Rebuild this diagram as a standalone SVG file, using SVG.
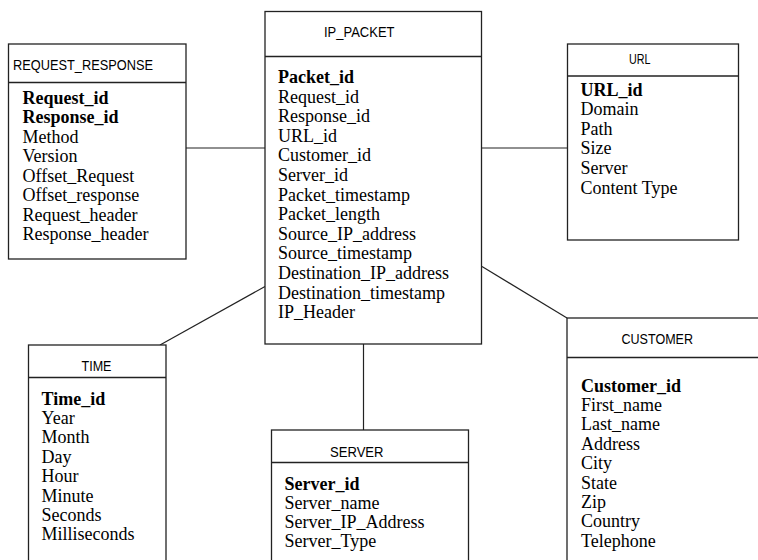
<svg xmlns="http://www.w3.org/2000/svg" width="758" height="560" viewBox="0 0 758 560">
<style>
.box{fill:#fff;stroke:#222;stroke-width:1.3}
.div{stroke:#222;stroke-width:1.3}
.conn line{stroke:#222;stroke-width:1.2}
.ttl{font-family:"Liberation Sans",Arial,sans-serif;font-size:14px;fill:#000}
.att{font-family:"Liberation Serif","Times New Roman",serif;font-size:18px;fill:#000}
.key{font-weight:bold}
</style>
<rect width="758" height="560" fill="#fff"/>
<g id="connectors" class="conn">
<line x1="186" y1="148" x2="265" y2="148"/>
<line x1="482" y1="148" x2="567" y2="148"/>
<line x1="482" y1="266.5" x2="567" y2="318"/>
<line x1="160" y1="345" x2="265" y2="286.5"/>
<line x1="363.5" y1="344" x2="363.5" y2="430"/>
</g>
<g id="request_response">
<rect class="box" x="8.5" y="44" width="177.5" height="215"/>
<line class="div" x1="8.5" y1="82.5" x2="186" y2="82.5"/>
<text class="ttl" x="13" y="70" textLength="140" lengthAdjust="spacingAndGlyphs">REQUEST_RESPONSE</text>
<text class="att">
<tspan x="22.5" y="103.5" class="key">Request_id</tspan>
<tspan x="22.5" y="123" class="key">Response_id</tspan>
<tspan x="22.5" y="142.5">Method</tspan>
<tspan x="22.5" y="162">Version</tspan>
<tspan x="22.5" y="181.5">Offset_Request</tspan>
<tspan x="22.5" y="201">Offset_response</tspan>
<tspan x="22.5" y="220.5">Request_header</tspan>
<tspan x="22.5" y="240">Response_header</tspan>
</text>
</g>
<g id="ip_packet">
<rect class="box" x="265" y="11.5" width="216.5" height="332.5"/>
<line class="div" x1="265" y1="56.5" x2="481.5" y2="56.5"/>
<text class="ttl" x="324" y="36.5" textLength="70.5" lengthAdjust="spacingAndGlyphs">IP_PACKET</text>
<text class="att">
<tspan x="278" y="83" class="key">Packet_id</tspan>
<tspan x="278" y="102.6">Request_id</tspan>
<tspan x="278" y="122.2">Response_id</tspan>
<tspan x="278" y="141.8">URL_id</tspan>
<tspan x="278" y="161.4">Customer_id</tspan>
<tspan x="278" y="181">Server_id</tspan>
<tspan x="278" y="200.6">Packet_timestamp</tspan>
<tspan x="278" y="220.2">Packet_length</tspan>
<tspan x="278" y="239.8">Source_IP_address</tspan>
<tspan x="278" y="259.4">Source_timestamp</tspan>
<tspan x="278" y="279">Destination_IP_address</tspan>
<tspan x="278" y="298.6">Destination_timestamp</tspan>
<tspan x="278" y="318.2">IP_Header</tspan>
</text>
</g>
<g id="url">
<rect class="box" x="567.5" y="44" width="171" height="196"/>
<line class="div" x1="567.5" y1="76" x2="738.5" y2="76"/>
<text class="ttl" x="629" y="63.5" textLength="21.5" lengthAdjust="spacingAndGlyphs">URL</text>
<text class="att">
<tspan x="580.5" y="95.5" class="key">URL_id</tspan>
<tspan x="580.5" y="115.1">Domain</tspan>
<tspan x="580.5" y="134.7">Path</tspan>
<tspan x="580.5" y="154.3">Size</tspan>
<tspan x="580.5" y="173.9">Server</tspan>
<tspan x="580.5" y="193.5">Content Type</tspan>
</text>
</g>
<g id="customer">
<rect class="box" x="567" y="318" width="200" height="260"/>
<line class="div" x1="567" y1="357.5" x2="767" y2="357.5"/>
<text class="ttl" x="621.5" y="343.5" textLength="71.5" lengthAdjust="spacingAndGlyphs">CUSTOMER</text>
<text class="att">
<tspan x="581" y="391.5" class="key">Customer_id</tspan>
<tspan x="581" y="410.9">First_name</tspan>
<tspan x="581" y="430.3">Last_name</tspan>
<tspan x="581" y="449.7">Address</tspan>
<tspan x="581" y="469.1">City</tspan>
<tspan x="581" y="488.5">State</tspan>
<tspan x="581" y="507.9">Zip</tspan>
<tspan x="581" y="527.3">Country</tspan>
<tspan x="581" y="546.7">Telephone</tspan>
</text>
</g>
<g id="time">
<rect class="box" x="28.5" y="345" width="137.5" height="230"/>
<line class="div" x1="28.5" y1="377.5" x2="166" y2="377.5"/>
<text class="ttl" x="81.5" y="371" textLength="30" lengthAdjust="spacingAndGlyphs">TIME</text>
<text class="att">
<tspan x="41.5" y="404.5" class="key">Time_id</tspan>
<tspan x="41.5" y="423.9">Year</tspan>
<tspan x="41.5" y="443.3">Month</tspan>
<tspan x="41.5" y="462.7">Day</tspan>
<tspan x="41.5" y="482.1">Hour</tspan>
<tspan x="41.5" y="501.5">Minute</tspan>
<tspan x="41.5" y="520.9">Seconds</tspan>
<tspan x="41.5" y="540.3">Milliseconds</tspan>
</text>
</g>
<g id="server">
<rect class="box" x="271.5" y="430" width="197" height="150"/>
<line class="div" x1="271.5" y1="462.5" x2="468.5" y2="462.5"/>
<text class="ttl" x="330" y="456.5" textLength="53.5" lengthAdjust="spacingAndGlyphs">SERVER</text>
<text class="att">
<tspan x="284.5" y="489.5" class="key">Server_id</tspan>
<tspan x="284.5" y="508.8">Server_name</tspan>
<tspan x="284.5" y="528.1">Server_IP_Address</tspan>
<tspan x="284.5" y="547.4">Server_Type</tspan>
</text>
</g>
</svg>
